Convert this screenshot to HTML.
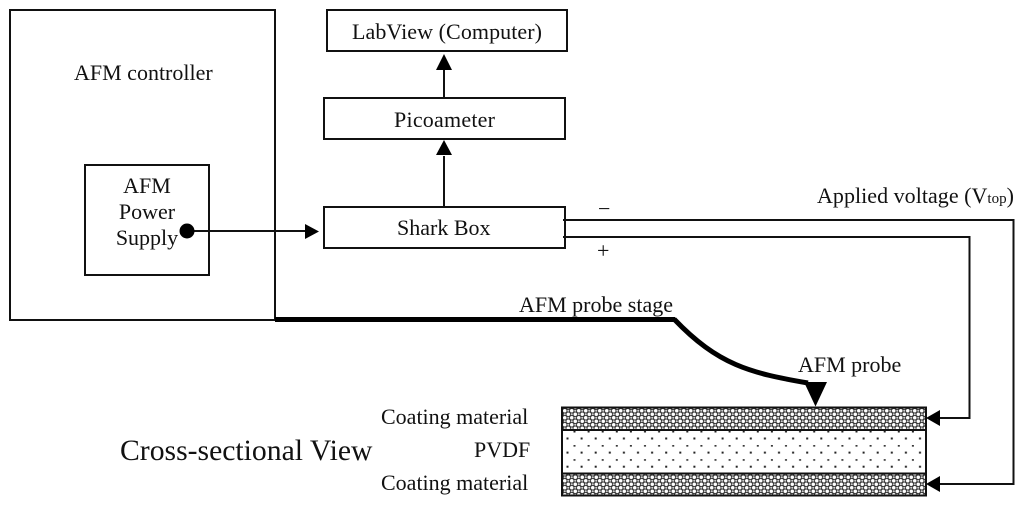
<!DOCTYPE html>
<html><head><meta charset="utf-8"><style>
html,body{margin:0;padding:0;background:#fff;width:1024px;height:506px;overflow:hidden}
svg{display:block;filter:blur(0.35px)}
text{font-family:"Liberation Serif",serif;font-size:22px;fill:#111}
</style></head><body>
<svg width="1024" height="506" viewBox="0 0 1024 506" xmlns="http://www.w3.org/2000/svg">
<defs>
<pattern id="hatch" width="7" height="7" patternUnits="userSpaceOnUse" x="563" y="409">
<rect width="7" height="7" fill="#333"/>
<circle cx="1.75" cy="1.75" r="1.75" fill="#fff"/>
<circle cx="5.25" cy="5.25" r="1.75" fill="#fff"/>
<circle cx="5.25" cy="1.75" r="1.05" fill="#ccc"/>
<circle cx="1.75" cy="5.25" r="1.05" fill="#ccc"/>
</pattern>
<pattern id="dots" width="14.1" height="14.1" patternUnits="userSpaceOnUse" x="560" y="431">
<rect x="6.500" y="6.500" width="2" height="2" fill="#222"/>
<rect x="13.500" y="0" width="0.600" height="1.500" fill="#222"/>
<rect x="0" y="0" width="1.400" height="1.500" fill="#222"/>
</pattern>
</defs>
<g fill="none" stroke="#111" stroke-width="2">
<rect x="10" y="10" width="265" height="310"/>
<rect x="85" y="165" width="124" height="110"/>
<rect x="327" y="10" width="240" height="41"/>
<rect x="324" y="98" width="241" height="41"/>
<rect x="324" y="207" width="241" height="41"/>
<path d="M444 98V68M444 207V156M187 231H306M563 220H1013.500V484H940M563 237H969.500V418H940"/>
</g>
<rect x="562" y="408" width="364" height="22" fill="url(#hatch)"/>
<rect x="563" y="431" width="362" height="42" fill="#fff"/>
<rect x="563" y="431" width="362" height="42" fill="url(#dots)"/>
<rect x="562" y="474" width="364" height="22" fill="url(#hatch)"/>
<g fill="none" stroke="#111" stroke-width="2">
<rect x="562" y="407.500" width="364" height="88"/>
<path d="M562 430H926M562 473.500H926"/>
</g>
<g fill="#000">
<circle cx="187" cy="231" r="7.500"/>
<path d="M305 224L319 231.500L305 239Z"/>
<path d="M436 70L444 54L452 70Z"/>
<path d="M436 155L444 140L452 155Z"/>
<path d="M940 410L926 418L940 426Z"/>
<path d="M940 476L926 484L940 492Z"/>
<path d="M804 382L827 382L815.500 406.500Z"/>
</g>
<path d="M275 319.500H675" stroke="#000" stroke-width="5" fill="none"/>
<path d="M674 319C718 365 750 373 808 383" stroke="#000" stroke-width="5" fill="none"/>
<text x="74" y="80">AFM controller</text>
<text x="147" y="193" text-anchor="middle">AFM</text>
<text x="147" y="219" text-anchor="middle">Power</text>
<text x="147" y="245" text-anchor="middle">Supply</text>
<text x="352" y="39" textLength="190">LabView (Computer)</text>
<text x="394" y="127" textLength="101">Picoameter</text>
<text x="397" y="235">Shark Box</text>
<text x="817" y="203" textLength="197">Applied voltage (V<tspan font-size="15">top</tspan>)</text>
<text x="598" y="216">−</text>
<text x="597" y="258">+</text>
<text x="519" y="312">AFM probe stage</text>
<text x="798" y="372">AFM probe</text>
<text x="381" y="424">Coating material</text>
<text x="474" y="457">PVDF</text>
<text x="381" y="490">Coating material</text>
<text x="120" y="460" style="font-size:29.700px">Cross-sectional View</text>
</svg>
</body></html>
